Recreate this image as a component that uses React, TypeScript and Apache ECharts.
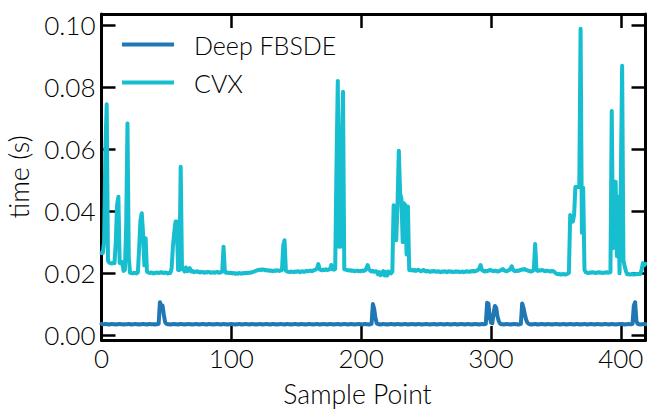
import React, { useEffect, useRef } from "react";
import * as echarts from "echarts";

const seriesNames = ["Deep FBSDE", "CVX"];
const seriesColors = ["#1f77b4", "#17becf"];

const xTicks = [0, 100, 200, 300, 400];
const yTicks = [0, 0.02, 0.04, 0.06, 0.08, 0.1];

const deepFBSDE = [
  0.0036, 0.0035, 0.0035, 0.0036, 0.0035, 0.0035, 0.0034, 0.0035, 0.0036, 0.0035,
  0.0035, 0.0034, 0.0035, 0.0035, 0.0036, 0.0035, 0.0035, 0.0034, 0.0035, 0.0035,
  0.0035, 0.0036, 0.0035, 0.0034, 0.0035, 0.0035, 0.0036, 0.0035, 0.0035, 0.0034,
  0.0035, 0.0035, 0.0036, 0.0035, 0.0035, 0.0034, 0.0035, 0.0036, 0.0035, 0.0035,
  0.0035, 0.0034, 0.0035, 0.0035, 0.0036, 0.0106, 0.0095, 0.0095, 0.0065, 0.0042,
  0.0036, 0.0035, 0.0035, 0.0034, 0.0035, 0.0035, 0.0036, 0.0035, 0.0035, 0.0034,
  0.0035, 0.0036, 0.0035, 0.0035, 0.0034, 0.0035, 0.0035, 0.0036, 0.0035, 0.0035,
  0.0034, 0.0035, 0.0035, 0.0036, 0.0035, 0.0034, 0.0035, 0.0035, 0.0036, 0.0035,
  0.0035, 0.0034, 0.0035, 0.0036, 0.0035, 0.0035, 0.0034, 0.0035, 0.0035, 0.0036,
  0.0035, 0.0035, 0.0034, 0.0035, 0.0036, 0.0035, 0.0035, 0.0034, 0.0035, 0.0035,
  0.0036, 0.0035, 0.0035, 0.0034, 0.0035, 0.0035, 0.0036, 0.0035, 0.0034, 0.0035,
  0.0035, 0.0036, 0.0035, 0.0035, 0.0034, 0.0035, 0.0036, 0.0035, 0.0035, 0.0034,
  0.0035, 0.0035, 0.0036, 0.0035, 0.0034, 0.0035, 0.0035, 0.0036, 0.0035, 0.0035,
  0.0034, 0.0035, 0.0036, 0.0035, 0.0035, 0.0034, 0.0035, 0.0035, 0.0036, 0.0035,
  0.0035, 0.0034, 0.0035, 0.0036, 0.0035, 0.0035, 0.0034, 0.0035, 0.0035, 0.0036,
  0.0035, 0.0035, 0.0034, 0.0035, 0.0036, 0.0035, 0.0035, 0.0034, 0.0035, 0.0035,
  0.0036, 0.0035, 0.0035, 0.0034, 0.0035, 0.0035, 0.0036, 0.0035, 0.0034, 0.0035,
  0.0035, 0.0036, 0.0035, 0.0035, 0.0034, 0.0035, 0.0036, 0.0035, 0.0035, 0.0034,
  0.0035, 0.0035, 0.0036, 0.0035, 0.0034, 0.0035, 0.0035, 0.0036, 0.0035, 0.0035,
  0.0034, 0.0035, 0.0036, 0.0035, 0.0035, 0.0034, 0.0035, 0.0035, 0.0036, 0.0035,
  0.0035, 0.0034, 0.0035, 0.0036, 0.0035, 0.0035, 0.0034, 0.0035, 0.0036, 0.0100,
  0.0085, 0.0055, 0.0038, 0.0035, 0.0035, 0.0034, 0.0035, 0.0036, 0.0035, 0.0035,
  0.0034, 0.0035, 0.0035, 0.0036, 0.0035, 0.0035, 0.0034, 0.0035, 0.0036, 0.0035,
  0.0035, 0.0034, 0.0035, 0.0035, 0.0036, 0.0035, 0.0034, 0.0035, 0.0035, 0.0036,
  0.0035, 0.0035, 0.0034, 0.0035, 0.0036, 0.0035, 0.0035, 0.0034, 0.0035, 0.0035,
  0.0036, 0.0035, 0.0035, 0.0034, 0.0035, 0.0035, 0.0036, 0.0035, 0.0034, 0.0035,
  0.0035, 0.0036, 0.0035, 0.0035, 0.0034, 0.0035, 0.0036, 0.0035, 0.0035, 0.0034,
  0.0035, 0.0035, 0.0036, 0.0035, 0.0034, 0.0035, 0.0035, 0.0036, 0.0035, 0.0035,
  0.0034, 0.0035, 0.0036, 0.0035, 0.0035, 0.0034, 0.0035, 0.0035, 0.0036, 0.0035,
  0.0035, 0.0034, 0.0035, 0.0036, 0.0035, 0.0035, 0.0036, 0.0104, 0.0102, 0.0058,
  0.0040, 0.0038, 0.0070, 0.0094, 0.0088, 0.0060, 0.0045, 0.0037, 0.0035, 0.0035,
  0.0034, 0.0035, 0.0036, 0.0035, 0.0035, 0.0034, 0.0035, 0.0035, 0.0036, 0.0035,
  0.0035, 0.0034, 0.0035, 0.0036, 0.0102, 0.0088, 0.0068, 0.0050, 0.0040, 0.0036,
  0.0035, 0.0034, 0.0035, 0.0035, 0.0036, 0.0035, 0.0034, 0.0035, 0.0035, 0.0036,
  0.0035, 0.0035, 0.0034, 0.0035, 0.0036, 0.0035, 0.0035, 0.0034, 0.0035, 0.0035,
  0.0036, 0.0035, 0.0035, 0.0034, 0.0035, 0.0035, 0.0036, 0.0035, 0.0034, 0.0035,
  0.0035, 0.0036, 0.0035, 0.0035, 0.0034, 0.0035, 0.0036, 0.0035, 0.0035, 0.0034,
  0.0035, 0.0035, 0.0036, 0.0035, 0.0034, 0.0035, 0.0035, 0.0036, 0.0035, 0.0035,
  0.0034, 0.0035, 0.0036, 0.0035, 0.0035, 0.0034, 0.0035, 0.0035, 0.0036, 0.0035,
  0.0035, 0.0034, 0.0035, 0.0036, 0.0035, 0.0035, 0.0034, 0.0035, 0.0035, 0.0036,
  0.0035, 0.0036, 0.0035, 0.0034, 0.0035, 0.0035, 0.0036, 0.0035, 0.0035, 0.0036,
  0.0095, 0.0106, 0.0045, 0.0036, 0.0035, 0.0034, 0.0035, 0.0035, 0.0036, 0.0035,
];

const cvx = [
  0.0265, 0.0265, 0.0300, 0.0600, 0.0745, 0.0240, 0.0233, 0.0232, 0.0231, 0.0233,
  0.0232, 0.0300, 0.0420, 0.0446, 0.0233, 0.0231, 0.0235, 0.0207, 0.0210, 0.0350,
  0.0683, 0.0250, 0.0201, 0.0200, 0.0199, 0.0201, 0.0200, 0.0199, 0.0202, 0.0280,
  0.0370, 0.0393, 0.0330, 0.0225, 0.0312, 0.0205, 0.0202, 0.0200, 0.0202, 0.0201,
  0.0199, 0.0200, 0.0201, 0.0202, 0.0200, 0.0201, 0.0203, 0.0201, 0.0200, 0.0202,
  0.0201, 0.0199, 0.0201, 0.0200, 0.0215, 0.0285, 0.0330, 0.0366, 0.0366, 0.0210,
  0.0210, 0.0543, 0.0212, 0.0215, 0.0205, 0.0218, 0.0206, 0.0210, 0.0216, 0.0205,
  0.0207, 0.0203, 0.0205, 0.0204, 0.0206, 0.0203, 0.0202, 0.0204, 0.0203, 0.0201,
  0.0203, 0.0202, 0.0204, 0.0203, 0.0201, 0.0202, 0.0203, 0.0201, 0.0202, 0.0204,
  0.0202, 0.0201, 0.0203, 0.0205, 0.0285, 0.0204, 0.0201, 0.0202, 0.0200, 0.0201,
  0.0200, 0.0199, 0.0200, 0.0198, 0.0199, 0.0198, 0.0200, 0.0199, 0.0198, 0.0200,
  0.0199, 0.0200, 0.0201, 0.0200, 0.0202, 0.0201, 0.0203, 0.0204, 0.0206, 0.0207,
  0.0209, 0.0210, 0.0211, 0.0210, 0.0212, 0.0211, 0.0209, 0.0210, 0.0208, 0.0209,
  0.0207, 0.0208, 0.0206, 0.0208, 0.0207, 0.0209, 0.0208, 0.0207, 0.0209, 0.0210,
  0.0290, 0.0306, 0.0208, 0.0205, 0.0204, 0.0203, 0.0205, 0.0204, 0.0203, 0.0205,
  0.0204, 0.0206, 0.0205, 0.0203, 0.0205, 0.0206, 0.0204, 0.0205, 0.0207, 0.0206,
  0.0207, 0.0208, 0.0206, 0.0208, 0.0210, 0.0211, 0.0215, 0.0229, 0.0212, 0.0210,
  0.0209, 0.0211, 0.0210, 0.0212, 0.0210, 0.0211, 0.0213, 0.0226, 0.0212, 0.0211,
  0.0213, 0.0550, 0.0820, 0.0285, 0.0285, 0.0600, 0.0785, 0.0212, 0.0211, 0.0210,
  0.0209, 0.0208, 0.0209, 0.0207, 0.0208, 0.0206, 0.0207, 0.0208, 0.0206, 0.0207,
  0.0206, 0.0208, 0.0207, 0.0209, 0.0215, 0.0226, 0.0212, 0.0208, 0.0205, 0.0207,
  0.0204, 0.0206, 0.0205, 0.0196, 0.0203, 0.0193, 0.0200, 0.0206, 0.0192, 0.0204,
  0.0192, 0.0205, 0.0200, 0.0199, 0.0205, 0.0419, 0.0410, 0.0306, 0.0420, 0.0595,
  0.0457, 0.0440, 0.0300, 0.0425, 0.0419, 0.0260, 0.0415, 0.0210, 0.0209, 0.0211,
  0.0208, 0.0210, 0.0207, 0.0209, 0.0211, 0.0208, 0.0206, 0.0208, 0.0210, 0.0207,
  0.0205, 0.0207, 0.0206, 0.0204, 0.0206, 0.0205, 0.0207, 0.0205, 0.0204, 0.0206,
  0.0205, 0.0203, 0.0205, 0.0204, 0.0206, 0.0205, 0.0203, 0.0205, 0.0206, 0.0204,
  0.0205, 0.0203, 0.0204, 0.0206, 0.0204, 0.0205, 0.0203, 0.0204, 0.0205, 0.0203,
  0.0204, 0.0206, 0.0205, 0.0204, 0.0206, 0.0205, 0.0207, 0.0205, 0.0206, 0.0208,
  0.0210, 0.0215, 0.0226, 0.0210, 0.0207, 0.0205, 0.0207, 0.0206, 0.0208, 0.0210,
  0.0209, 0.0207, 0.0206, 0.0208, 0.0207, 0.0205, 0.0206, 0.0208, 0.0210, 0.0213,
  0.0209, 0.0207, 0.0206, 0.0208, 0.0210, 0.0214, 0.0222, 0.0210, 0.0207, 0.0206,
  0.0208, 0.0207, 0.0209, 0.0210, 0.0212, 0.0211, 0.0213, 0.0210, 0.0209, 0.0207,
  0.0206, 0.0205, 0.0207, 0.0210, 0.0294, 0.0210, 0.0207, 0.0209, 0.0208, 0.0210,
  0.0209, 0.0207, 0.0206, 0.0208, 0.0207, 0.0206, 0.0205, 0.0207, 0.0206, 0.0203,
  0.0199, 0.0197, 0.0196, 0.0197, 0.0195, 0.0196, 0.0197, 0.0195, 0.0196, 0.0198,
  0.0200, 0.0387, 0.0370, 0.0366, 0.0387, 0.0478, 0.0478, 0.0478, 0.0478, 0.0988,
  0.0330, 0.0475, 0.0210, 0.0203, 0.0201, 0.0200, 0.0202, 0.0201, 0.0203, 0.0202,
  0.0201, 0.0200, 0.0202, 0.0203, 0.0201, 0.0202, 0.0200, 0.0201, 0.0202, 0.0203,
  0.0201, 0.0202, 0.0203, 0.0723, 0.0280, 0.0495, 0.0495, 0.0254, 0.0446, 0.0199,
  0.0500, 0.0869, 0.0241, 0.0221, 0.0205, 0.0196, 0.0197, 0.0195, 0.0196, 0.0197,
  0.0195, 0.0196, 0.0197, 0.0196, 0.0198, 0.0197, 0.0210, 0.0232, 0.0225, 0.0230,
];

const FONT = "Lato";

export default function App() {
  const ref = useRef<HTMLDivElement>(null);
  useEffect(() => {
    if (!ref.current) return;
    const chart = echarts.init(ref.current, null, { renderer: "svg" });
    const xMin = 0;
    const xMax = cvx.length - 1;
    const yMin = -0.0016;
    const yMax = 0.1036;
    const axisLineStyle = { color: "#000", width: 3 };
    const tickStyle = { color: "#000", width: 2.5 };
    const labelStyle = { color: "#000", fontSize: 26, fontFamily: FONT, fontWeight: 300 };
    const makeX = (pos: string, main: boolean) => ({
      type: "value",
      position: pos,
      min: xMin,
      max: xMax,
      axisLine: { show: true, onZero: false, lineStyle: axisLineStyle },
      axisTick: { show: true, inside: true, length: 14, lineStyle: tickStyle, customValues: xTicks },
      axisLabel: main
        ? { show: true, ...labelStyle, margin: 5, customValues: xTicks }
        : { show: false },
      splitLine: { show: false },
      name: main ? "Sample Point" : "",
      nameLocation: "middle",
      nameGap: 40,
      nameTextStyle: { ...labelStyle, fontSize: 26.5, padding: [0, 32, 0, 0] },
    });
    const makeY = (pos: string, main: boolean) => ({
      type: "value",
      position: pos,
      min: yMin,
      max: yMax,
      axisLine: { show: true, onZero: false, lineStyle: axisLineStyle },
      axisTick: { show: true, inside: true, length: 14, lineStyle: tickStyle, customValues: yTicks },
      axisLabel: main
        ? {
            show: true,
            ...labelStyle,
            margin: 6,
            customValues: yTicks,
            formatter: (v: number) => v.toFixed(2),
          }
        : { show: false },
      splitLine: { show: false },
      name: main ? "time (s)" : "",
      nameLocation: "middle",
      nameGap: 70,
      nameRotate: 90,
      nameTextStyle: { ...labelStyle, fontSize: 27 },
    });
    const datasets = [deepFBSDE, cvx];
    chart.setOption({
      animation: false,
      backgroundColor: "#fff",
      grid: { left: 101.5, right: 1.5, top: 14, bottom: 69, outerBoundsMode: "none" },
      legend: {
        show: true,
        orient: "vertical",
        left: 122,
        top: 32,
        padding: 0,
        icon: "rect",
        itemWidth: 52,
        itemHeight: 4,
        itemGap: 13,
        data: seriesNames,
        textStyle: { ...labelStyle, fontSize: 25, lineHeight: 24, padding: [0, 0, 0, 15] },
      },
      xAxis: [makeX("bottom", true), makeX("top", false)],
      yAxis: [makeY("left", true), makeY("right", false)],
      series: seriesNames.map((name, k) => ({
        name,
        type: "line",
        xAxisIndex: 0,
        yAxisIndex: 0,
        symbol: "none",
        showSymbol: false,
        color: seriesColors[k],
        lineStyle: { color: seriesColors[k], width: 4, join: "round", cap: "round" },
        data: datasets[k].map((v, i) => [i, v]),
      })),
    });
    return () => chart.dispose();
  }, []);
  return (
    <div
      ref={ref}
      style={{ position: "fixed", left: 0, top: 0, width: 647, height: 409 }}
    />
  );
}
